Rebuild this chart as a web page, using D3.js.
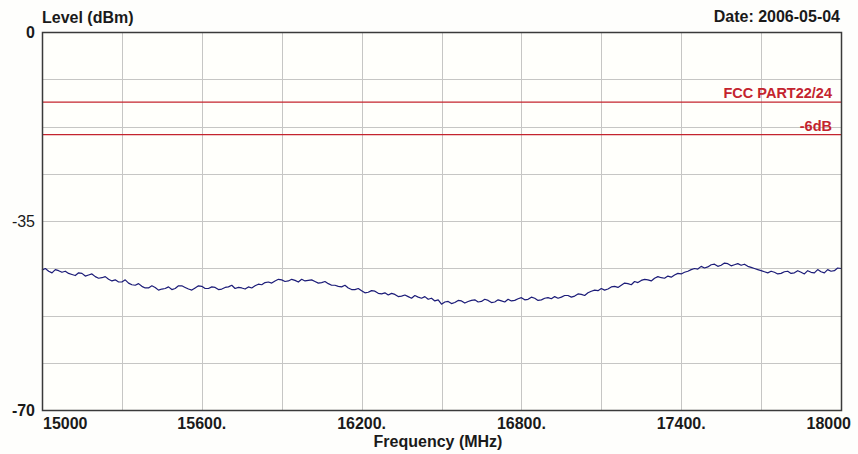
<!DOCTYPE html>
<html>
<head>
<meta charset="utf-8">
<script src="https://cdn.jsdelivr.net/npm/d3@7/dist/d3.min.js"></script>
<style>
  html, body { margin: 0; padding: 0; background: #fefefc; }
  svg { display: block; }
  text { font-family: "Liberation Sans", Arial, sans-serif; }
</style>
</head>
<body>
<svg id="chart" width="858" height="454"></svg>
<script>
// Sweep: 15000–18000 MHz, one reading every 12.5 MHz
const sweepStart = 15000, sweepStep = 12.5;
const levels = [
  -44.1, -43.8, -44.3, -44.6, -44.0, -44.2, -44.5, -44.3, -44.7, -44.9, -45.1, -44.6, -44.7, -45.2, -45.0, -44.8, -45.3, -45.6, -45.5, -45.3,
  -45.8, -46.1, -45.9, -46.3, -46.3, -45.9, -46.5, -46.8, -46.9, -46.6, -47.1, -47.4, -47.4, -47.0, -47.3, -47.8, -47.6, -47.5, -47.2, -47.7,
  -47.5, -47.0, -47.0, -47.3, -47.6, -47.8, -47.4, -47.0, -47.1, -47.5, -47.5, -47.2, -47.3, -47.7, -47.6, -47.3, -47.2, -46.9, -47.5, -47.3,
  -47.4, -47.6, -47.2, -47.4, -47.0, -46.7, -46.8, -46.4, -46.3, -46.5, -46.1, -45.8, -45.9, -46.2, -46.1, -45.8, -46.0, -46.3, -45.8, -46.1,
  -46.0, -45.9, -46.2, -46.5, -46.4, -46.2, -46.6, -46.9, -46.9, -47.1, -47.2, -46.9, -47.4, -47.7, -47.7, -47.5, -47.9, -48.3, -48.2, -47.9,
  -48.0, -48.4, -48.5, -48.3, -48.7, -48.4, -48.6, -49.0, -48.9, -48.7, -49.0, -49.3, -48.8, -49.1, -49.3, -49.0, -49.5, -49.3, -49.8, -49.6,
  -50.4, -50.0, -49.9, -50.3, -50.1, -49.7, -49.8, -50.2, -49.9, -49.7, -49.6, -50.0, -49.9, -49.5, -49.7, -50.1, -50.0, -49.6, -49.8, -50.0,
  -49.5, -49.8, -49.7, -49.4, -49.2, -49.6, -49.5, -49.1, -49.3, -49.7, -49.6, -49.3, -49.2, -49.4, -49.0, -49.3, -49.1, -48.8, -48.8, -49.1,
  -48.9, -48.5, -48.6, -48.8, -48.3, -48.0, -47.8, -47.9, -47.5, -47.8, -47.6, -47.2, -47.1, -47.3, -46.9, -46.5, -46.6, -46.8, -46.2, -46.4,
  -46.0, -45.8, -45.9, -46.1, -45.6, -45.3, -45.5, -45.6, -45.2, -45.4, -45.0, -44.7, -44.8, -44.5, -44.3, -44.0, -43.8, -43.9, -43.4, -43.7,
  -43.5, -43.1, -43.0, -43.4, -43.2, -42.8, -42.9, -43.3, -43.1, -42.9, -43.2, -43.0, -43.4, -43.6, -43.8, -44.0, -44.2, -44.4, -44.6, -44.3,
  -44.5, -44.8, -44.7, -44.4, -44.3, -44.7, -44.6, -44.2, -44.5, -44.8, -44.2, -44.5, -44.6, -44.0, -44.4, -44.6, -44.0, -44.3, -44.2, -43.7,
  -43.8
];

// Limit lines (dBm)
const limitNames  = ["FCC PART22/24", "-6dB"];
const limitLevels = [-13, -19];

// Axis ticks
const xGridTicks  = [15000, 15300, 15600, 15900, 16200, 16500, 16800, 17100, 17400, 17700, 18000];
const xLabelTicks = [15000, 15600, 16200, 16800, 17400, 18000];
const xLabelText  = ["15000", "15600.", "16200.", "16800.", "17400.", "18000"];
const yGridTicks  = [0, -8.75, -17.5, -26.25, -35, -43.75, -52.5, -61.25, -70];
const yLabelTicks = [0, -35, -70];

const svg = d3.select("#chart");
const plot = { left: 42, right: 841, top: 32, bottom: 410 };

const x = d3.scaleLinear().domain([15000, 18000]).range([plot.left, plot.right]);
const y = d3.scaleLinear().domain([0, -70]).range([plot.top, plot.bottom]);

// plot background
svg.append("rect")
  .attr("x", plot.left).attr("y", plot.top)
  .attr("width", plot.right - plot.left).attr("height", plot.bottom - plot.top)
  .attr("fill", "#fffffb");

// grid
const grid = svg.append("g").attr("stroke", "#c6c6c4").attr("stroke-width", 1);
grid.selectAll("line.v").data(xGridTicks).join("line")
  .attr("x1", d => Math.round(x(d)) + 0.5).attr("x2", d => Math.round(x(d)) + 0.5)
  .attr("y1", plot.top).attr("y2", plot.bottom);
grid.selectAll("line.h").data(yGridTicks).join("line")
  .attr("y1", d => Math.round(y(d)) + 0.5).attr("y2", d => Math.round(y(d)) + 0.5)
  .attr("x1", plot.left).attr("x2", plot.right);

// limit lines
const limits = limitNames.map((name, i) => ({ name, level: limitLevels[i] }));
svg.append("g").selectAll("line").data(limits).join("line")
  .attr("x1", plot.left).attr("x2", plot.right)
  .attr("y1", d => y(d.level)).attr("y2", d => y(d.level))
  .attr("stroke", "#c4242e").attr("stroke-width", 1.3);
svg.append("g").selectAll("text").data(limits).join("text")
  .attr("x", 832).attr("y", d => y(d.level) - 4)
  .attr("text-anchor", "end")
  .attr("font-size", 14.5).attr("font-weight", "bold")
  .attr("fill", "#c4242e")
  .text(d => d.name);

// measured trace
const trace = levels.map((v, i) => ({ f: sweepStart + i * sweepStep, v }));
svg.append("path")
  .datum(trace)
  .attr("fill", "none")
  .attr("stroke", "#1c1c78")
  .attr("stroke-width", 1.2)
  .attr("stroke-linejoin", "round")
  .attr("d", d3.line().x(d => x(d.f)).y(d => y(d.v)));

// frame
svg.append("rect")
  .attr("x", plot.left + 0.5).attr("y", plot.top + 0.5)
  .attr("width", plot.right - plot.left).attr("height", plot.bottom - plot.top)
  .attr("fill", "none").attr("stroke", "#3a3a3a").attr("stroke-width", 1.5);

// y labels
svg.append("g").selectAll("text").data(yLabelTicks).join("text")
  .attr("x", 35).attr("y", d => y(d))
  .attr("dy", "0.36em")
  .attr("text-anchor", "end")
  .attr("font-size", 16)
  .attr("font-weight", d => d === -35 ? "normal" : "bold")
  .attr("fill", "#1a1a1a")
  .text(d => d);

// x labels
svg.append("g").selectAll("text").data(xLabelTicks).join("text")
  .attr("x", (d, i) => i === 0 ? plot.left + 1 : i === xLabelTicks.length - 1 ? 851 : x(d))
  .attr("y", 429)
  .attr("text-anchor", (d, i) => i === 0 ? "start" : i === xLabelTicks.length - 1 ? "end" : "middle")
  .attr("font-size", 16).attr("font-weight", "bold")
  .attr("fill", "#1a1a1a")
  .text((d, i) => xLabelText[i]);

// titles
svg.append("text").attr("x", 438).attr("y", 447)
  .attr("text-anchor", "middle").attr("font-size", 16).attr("font-weight", "bold")
  .attr("fill", "#1a1a1a").text("Frequency (MHz)");
svg.append("text").attr("x", 42).attr("y", 23)
  .attr("font-size", 16).attr("font-weight", "bold")
  .attr("fill", "#1a1a1a").text("Level (dBm)");
svg.append("text").attr("x", 840).attr("y", 22)
  .attr("text-anchor", "end").attr("font-size", 16).attr("font-weight", "bold")
  .attr("fill", "#1a1a1a").text("Date: 2006-05-04");
</script>
</body>
</html>
